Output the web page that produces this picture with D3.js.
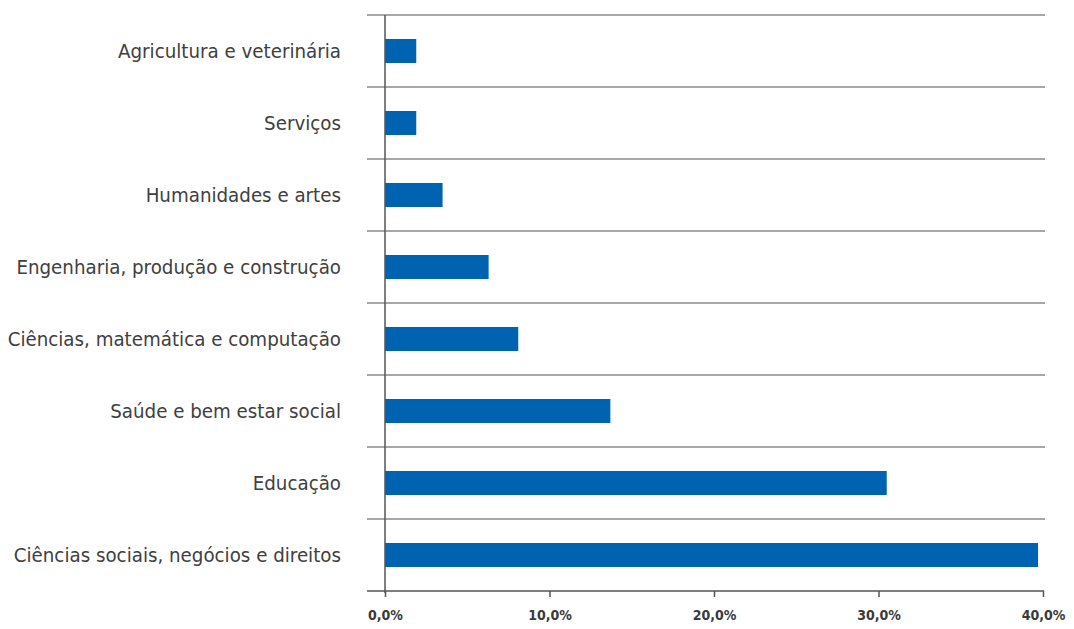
<!DOCTYPE html>
<html>
<head>
<meta charset="utf-8">
<script src="https://cdn.jsdelivr.net/npm/d3@7"></script>
<style>
  body { margin: 0; background: #fff; }
  svg text { font-family: "DejaVu Sans Condensed", "Roboto", sans-serif; fill: #3a3a3a; }
</style>
</head>
<body>
<svg width="1074" height="629"></svg>
<script>
// categories from top to bottom, values in percent
const categories = [
  "Agricultura e veterinária",
  "Serviços",
  "Humanidades e artes",
  "Engenharia, produção e construção",
  "Ciências, matemática e computação",
  "Saúde e bem estar social",
  "Educação",
  "Ciências sociais, negócios e direitos"
];
const values = [1.9, 1.9, 3.5, 6.3, 8.1, 13.7, 30.5, 39.7];
const tickValues = [0, 10, 20, 30, 40];

const svg = d3.select("svg");
const mLeft = 385, mRight = 1043, mTop = 15, mBottom = 591;

const x = d3.scaleLinear().domain([0, 40]).range([mLeft, mRight]);
const y = d3.scaleBand().domain(categories).range([mTop, mBottom]).padding(0);

const fmt = d => d3.format(".1f")(d).replace(".", ",") + "%";

// horizontal separators between categories
const seps = categories.map(c => y(c));
svg.append("g").selectAll("line")
  .data(seps)
  .enter().append("line")
    .attr("x1", mLeft - 18)
    .attr("x2", mRight + 2)
    .attr("y1", d => d)
    .attr("y2", d => d)
    .attr("stroke", "#8a8a8a")
    .attr("stroke-width", 1.5);

// bars
const bh = y.bandwidth() / 3;
svg.append("g").selectAll("rect")
  .data(values)
  .enter().append("rect")
    .attr("x", x(0))
    .attr("y", (d, i) => y(categories[i]) + (y.bandwidth() - bh) / 2)
    .attr("width", d => x(d) - x(0))
    .attr("height", bh)
    .attr("fill", "#0063b1");

// category labels
svg.append("g").selectAll("text")
  .data(categories)
  .enter().append("text")
    .attr("x", mLeft - 44)
    .attr("y", d => y(d) + y.bandwidth() / 2)
    .attr("dy", "0.35em")
    .attr("text-anchor", "end")
    .style("font-size", "20.3px")
    .style("fill", "#404040")
    .text(d => d);

// bottom axis
const xAxis = d3.axisBottom(x)
  .tickValues(tickValues)
  .tickSize(6)
  .tickSizeOuter(0)
  .tickFormat(fmt);
const ax = svg.append("g")
  .attr("transform", `translate(0,${mBottom})`)
  .call(xAxis);
ax.select(".domain").remove();
ax.append("line")
  .attr("x1", mLeft - 18).attr("x2", mRight + 1)
  .attr("stroke", "#555").attr("stroke-width", 1.5);
ax.selectAll(".tick line").attr("stroke", "#555").attr("stroke-width", 1.5);
ax.selectAll(".tick text")
  .attr("y", 19)
  .style("font-size", "14px")
  .style("font-weight", "bold")
  .attr("fill", "#3a3a3a");

// vertical axis line
svg.append("line")
  .attr("x1", mLeft).attr("x2", mLeft)
  .attr("y1", mTop).attr("y2", mBottom + 2)
  .attr("stroke", "#555")
  .attr("stroke-width", 1.5);
</script>
</body>
</html>
